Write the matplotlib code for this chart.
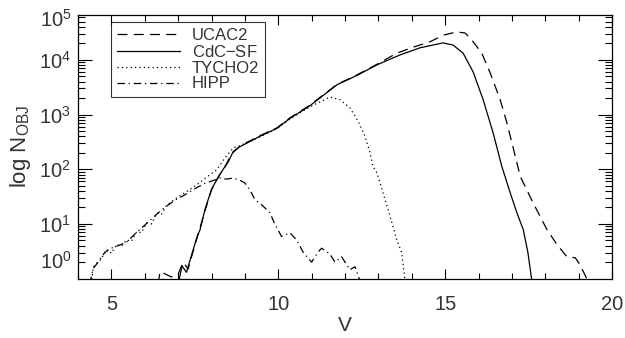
import numpy as np
import matplotlib
matplotlib.use("Agg")
import matplotlib.pyplot as plt
from matplotlib.ticker import FixedLocator, LogLocator, NullFormatter

plt.rcParams['font.family'] = ['Liberation Sans', 'DejaVu Sans']
plt.rcParams['mathtext.fontset'] = 'custom'
plt.rcParams['mathtext.rm'] = 'Liberation Sans'
plt.rcParams['mathtext.it'] = 'Liberation Sans'

# counts per magnitude bin
v_ucac = [6.4, 6.46, 6.8, 7.0, 7.15, 7.3, 7.4, 7.6, 7.8, 8.0, 8.2, 8.4, 8.6, 8.85,
          9.45, 9.96, 10.35, 10.95, 11.2, 11.76, 12.36, 12.96, 13.55, 14.04, 14.55,
          14.94, 15.35, 15.6, 15.84, 16.1, 16.35, 16.65, 16.85, 17.15, 17.25, 17.64,
          18.05, 18.35, 18.65, 18.9, 19.04, 19.28]
n_ucac = [0.8, 1.35, 1.07, 1.2, 2.0, 1.5, 2.5, 6.5, 17, 42, 72, 110, 190, 265,
          410, 570, 870, 1480, 1950, 3550, 5300, 8300, 13200, 17000, 21400,
          28200, 32400, 30900, 21400, 13200, 5750, 1860, 710, 132, 74, 24,
          7.9, 4.2, 2.5, 2.4, 1.8, 0.9]

v_cdc = [7.0, 7.12, 7.25, 7.36, 7.57, 7.66, 7.8, 8.0, 8.2, 8.35, 8.5, 8.65, 8.85,
         9.45, 9.96, 10.35, 10.95, 11.2, 11.76, 12.36, 12.96, 13.65, 14.25, 14.94,
         15.24, 15.54, 15.84, 16.14, 16.44, 16.7, 16.95, 17.15, 17.34, 17.48, 17.6]
n_cdc = [0.8, 1.7, 1.3, 2.2, 5.9, 7.9, 18, 43, 71, 100, 135, 210, 257,
         400, 560, 850, 1450, 1900, 3500, 5200, 8100, 12300, 16600, 20400,
         18600, 13200, 6000, 1860, 457, 112, 37, 16, 7.9, 3.0, 0.9]

v_tycho = [4.4, 4.46, 4.67, 4.86, 5.0, 5.16, 5.3, 5.46, 5.6, 5.76, 5.9, 6.06, 6.2,
           6.36, 6.5, 6.66, 6.96, 7.26, 7.56, 7.86, 8.16, 8.4, 8.65, 8.85, 9.45,
           9.96, 10.35, 10.95, 11.25, 11.55, 11.85, 12.15, 12.4, 12.6, 12.75, 12.84,
           12.96, 13.14, 13.35, 13.55, 13.7, 13.8]
n_tycho = [0.8, 1.66, 2.2, 3.4, 2.9, 4.2, 3.9, 5.1, 4.8, 7.2, 6.9, 10.5, 10.0,
           15.8, 15.0, 22, 30, 39, 52, 72, 98, 160, 245, 270, 390,
           550, 830, 1380, 1700, 2090, 1860, 1320, 740, 400, 200, 112,
           85, 37, 13.8, 5.1, 3.0, 0.9]

v_hipp = [4.35, 4.45, 4.6, 4.8, 5.0, 5.2, 5.45, 5.7, 6.0, 6.3, 6.6, 6.9, 7.2, 7.5,
          7.8, 8.05, 8.25, 8.45, 8.65, 8.85, 9.0, 9.15, 9.3, 9.55, 9.75, 9.9, 10.1,
          10.35, 10.55, 10.75, 11.0, 11.2, 11.3, 11.55, 11.7, 11.9, 12.05, 12.15,
          12.3, 12.45]
n_hipp = [0.8, 1.5, 2.0, 3.0, 3.6, 4.0, 4.6, 6.5, 9.5, 14, 20, 27, 34, 44,
          55, 62, 69, 66, 69, 63, 56, 42, 28, 21, 16, 9.8, 5.9,
          6.9, 5.1, 3.0, 2.0, 3.1, 3.6, 2.8, 2.0, 2.5, 1.8, 1.45,
          1.65, 0.9]

labels = ['UCAC2', 'CdC$-$SF', 'TYCHO2', 'HIPP']
styles = [(0, (8, 5)), '-', (0, (1, 2.5)), (0, (6, 3, 1, 3))]
ytop = 6.6e4
txt = '#333333'
fs = 14.5

fig = plt.figure(figsize=(6.25, 3.38), dpi=100)
ax = fig.add_axes([78 / 625, 1 - 278.6 / 338, 534 / 625, 263.6 / 338])

for v, n, lab, ls in zip([v_ucac, v_cdc, v_tycho, v_hipp],
                         [n_ucac, n_cdc, n_tycho, n_hipp], labels, styles):
    ax.plot(v, n, color='black', lw=0.9, linestyle=ls, label=lab)

ax.set_yscale('log')
ax.set_xlim(4, 20)
ax.set_ylim(1, ytop)

ax.xaxis.set_major_locator(FixedLocator([5, 10, 15, 20]))
ax.xaxis.set_minor_locator(FixedLocator(np.arange(4, 21, 1)))
ax.set_xticklabels(['5', '10', '15', '20'])

ax.yaxis.set_major_locator(FixedLocator([10, 100, 1000, 10000]))
ax.yaxis.set_minor_locator(LogLocator(base=10, subs=np.arange(2, 10)))
ax.yaxis.set_minor_formatter(NullFormatter())
ax.set_yticklabels(['$10^{1}$', '$10^{2}$', '$10^{3}$', '$10^{4}$'])
ytr = ax.get_yaxis_transform()
ax.text(-0.012, 2, '$10^{0}$', transform=ytr, ha='right', va='center',
        fontsize=fs, color=txt)
ax.text(-0.012, 5.4e4, '$10^{5}$', transform=ytr, ha='right', va='center',
        fontsize=fs, color=txt)

ax.tick_params(which='both', direction='in', top=True, right=True,
               labelsize=fs, labelcolor=txt, width=0.8)
ax.tick_params(axis='x', which='major', length=7, pad=12)
ax.tick_params(axis='x', which='minor', length=4)
ax.tick_params(axis='y', which='major', length=10, pad=5)
ax.tick_params(axis='y', which='minor', length=5)
for s in ax.spines.values():
    s.set_linewidth(0.9)

ax.set_xlabel('V', fontsize=15, color=txt, labelpad=1)
ax.set_ylabel('log N$_{\\mathrm{OBJ}}$', fontsize=16, color=txt, labelpad=4)

leg = ax.legend(loc='upper left', bbox_to_anchor=(0.062, 0.973), borderaxespad=0,
                fontsize=12, frameon=True, fancybox=False, handlelength=3.8,
                handletextpad=0.7, labelspacing=0.05, borderpad=0.35)
leg.get_frame().set_edgecolor('black')
leg.get_frame().set_linewidth(0.8)
for t in leg.get_texts():
    t.set_color(txt)

fig.savefig('out.png', dpi=100)
